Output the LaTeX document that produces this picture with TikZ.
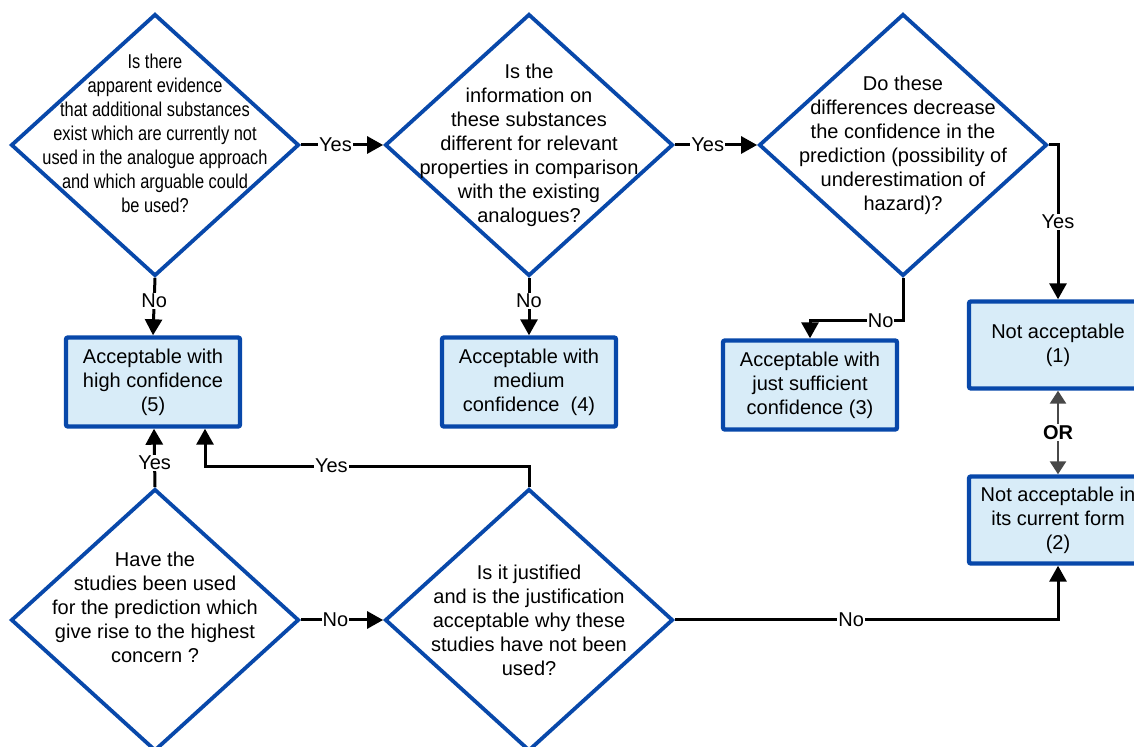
\documentclass[tikz,border=0pt]{standalone}
\usepackage{fontspec}
\setmainfont{Liberation Sans}
\newfontfamily\narrowsans[FakeStretch=0.82]{Liberation Sans}
\usetikzlibrary{shapes.geometric,arrows.meta}
\definecolor{flowblue}{RGB}{8,72,170}
\definecolor{boxfill}{RGB}{216,236,248}
\definecolor{orgray}{RGB}{72,72,72}

\begin{document}
\begin{tikzpicture}[x=0.5pt,y=-0.5pt]
	\tikzstyle{question}=[diamond,draw=flowblue,line width=1.9pt,minimum width=144pt,minimum height=131pt,inner sep=0pt]
	\tikzstyle{qtext}=[align=center,inner sep=0pt,font=\fontsize{10}{12}\selectfont]
	\tikzstyle{outcome}=[rectangle,draw=flowblue,fill=boxfill,line width=2.2pt,rounded corners=1pt,
		minimum width=87pt,minimum height=44.5pt,inner sep=0pt,align=center,font=\fontsize{10}{12}\selectfont]
	\tikzstyle{flow}=[line width=1.5pt,-{Triangle[length=8pt,width=8.5pt]}]
	\tikzstyle{answer}=[fill=white,inner sep=0.5pt,font=\fontsize{10}{12}\selectfont]
	\useasboundingbox (0,0) rectangle (1134,747);

	\node[question] (d1) at (155,145) {};
	\node[question] (d2) at (529,145) {};
	\node[question] (d3) at (903,145) {};
	\node[question] (d4) at (155,620) {};
	\node[question] (d5) at (529,620) {};

	\node[qtext,font=\narrowsans\fontsize{10}{12}\selectfont] (q1) at ([yshift=6pt]d1) {Is there\\apparent evidence\\that additional substances\\exist which are currently not\\used in the analogue approach\\and which arguable could\\be used?};
	\node[qtext] (q2) at (d2) {Is the\\information on\\these substances\\different for relevant\\properties in comparison\\with the existing\\analogues?};
	\node[qtext] (q3) at (d3) {Do these\\differences decrease\\the confidence in the\\prediction (possibility of\\underestimation of\\hazard)?};
	\node[qtext] (q4) at ([yshift=6.5pt]d4) {Have the\\studies been used\\for the prediction which\\give rise to the highest\\concern ?};
	\node[qtext] (q5) at (d5) {Is it justified\\and is the justification\\acceptable why these\\studies have not been\\used?};

	\node[outcome] (b5) at (153,382) {Acceptable with\\high confidence\\(5)};
	\node[outcome] (b4) at (529,382) {Acceptable with\\medium\\confidence~~(4)};
	\node[outcome] (b3) at (810,385) {Acceptable with\\just sufficient\\confidence (3)};
	\node[outcome,minimum width=89pt,minimum height=43.5pt] (b1) at (1058,345) {Not acceptable\\(1)};
	\node[outcome,minimum width=89pt,minimum height=43.5pt] (b2) at (1058,520) {Not acceptable in\\its current form\\(2)};

	\draw[flow] (d1.east) -- node[answer,pos=0.42] {Yes} (d2.west);
	\draw[flow] (d2.east) -- node[answer,pos=0.4] {Yes} (d3.west);
	\draw[flow] (d3.east) -| node[answer,pos=0.75] {Yes} (b1.north);
	\draw[flow] (d3.south) -- ++(0,43) -| node[answer,pos=0.12] {No} (b3.north);
	\draw[flow] (d1.south) -- node[answer,pos=0.4] {No} (b5.north);
	\draw[flow] (d2.south) -- node[answer,pos=0.4] {No} (b4.north);
	\draw[flow] (d4.north) -- node[answer,pos=0.42] {Yes} ([xshift=0.5pt]b5.south);
	\draw[flow] (d5.north) -- ++(0,-21) -| node[answer,pos=0.305] {Yes} ([xshift=26pt]b5.south);
	\draw[flow] (d4.east) -- node[answer,pos=0.42] {No} (d5.west);
	\draw[flow] (d5.east) -| node[answer,pos=0.23] {No} (b2.south);
	\draw[orgray,line width=1.3pt,{Triangle[length=6.5pt,width=8pt]}-{Triangle[length=6.5pt,width=8pt]}] (b1.south) -- node[answer,text=black,font=\bfseries\fontsize{10}{12}\selectfont] {OR} (b2.north);
\end{tikzpicture}
\end{document}
